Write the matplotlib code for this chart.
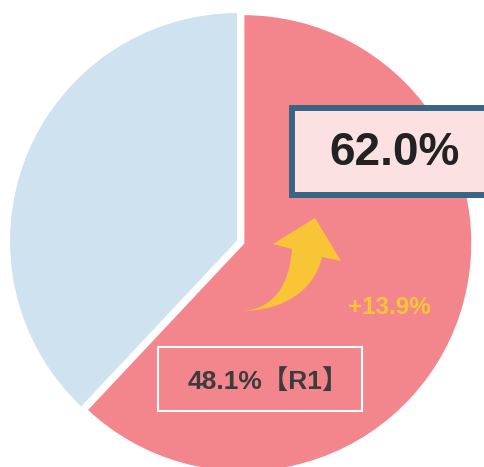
import matplotlib
matplotlib.use("Agg")
import matplotlib.pyplot as plt
from matplotlib.patches import Rectangle, PathPatch
from matplotlib.path import Path
from matplotlib.transforms import Affine2D

# data
labels = ["R2", "Other"]
shares = [62.0, 38.0]
prev_share = 48.1
prev_label = "R1"
change = shares[0] - prev_share

PINK = "#F3868C"
BLUE = "#CFE2EF"
YELLOW = "#F7C535"
BORDER = "#386584"

W, H = 485, 467
fig = plt.figure(figsize=(W / 100, H / 100), dpi=100)
ax = fig.add_axes([0, 0, 1, 1])

R = 229  # pie radius in pixels
cx, cy = 238, 241  # pie centre in pixels (from top-left)

ax.pie(
    shares,
    colors=[PINK, BLUE],
    startangle=90,
    counterclock=False,
    explode=[0.025, 0],
    wedgeprops=dict(edgecolor="white", linewidth=1.5),
)
ax.set_aspect("auto")
ax.set_xlim(-cx / R, (W - cx) / R)
ax.set_ylim(-(H - cy) / R, cy / R)
ax.axis("off")

# pixel coords (top-left origin) -> figure
px = Affine2D().scale(1 / W, -1 / H).translate(0, 1) + fig.transFigure


def fx(x):
    return x / W


def fy(y):
    return 1 - y / H


# big value box
big = Rectangle((292, 195), 220, -87, transform=px,
                facecolor="#FCE1E3", edgecolor=BORDER, linewidth=4.3, clip_on=False)
fig.add_artist(big)
fig.text(fx(395), fy(153), f"{shares[0]:.1f}%", ha="center", va="center",
         fontsize=33, fontweight="bold", color="#222222", family="Liberation Sans")

# previous value box
prev = Rectangle((158, 411), 204, -64, transform=px,
                 facecolor="none", edgecolor="white", linewidth=1.5)
fig.add_artist(prev)
fig.text(fx(268), fy(381), f"{prev_share:.1f}%【{prev_label}】", ha="center", va="center",
         fontsize=19, fontweight="bold", color="#3C3C3C",
         family=["Liberation Sans", "Noto Sans CJK SC"])

# curved arrow (tapered tail, wide head)
verts = [
    (244, 311),
    (272, 308), (289, 288), (292, 249),   # upper edge to neck
    (273, 244),                            # left barb
    (315, 218),                            # tip
    (341, 261),                            # right barb
    (322, 257),                            # neck right
    (314, 292), (282, 310), (244, 311),   # lower edge back to tail
    (244, 311),
]
codes = [Path.MOVETO,
         Path.CURVE4, Path.CURVE4, Path.CURVE4,
         Path.LINETO, Path.LINETO, Path.LINETO, Path.LINETO,
         Path.CURVE4, Path.CURVE4, Path.CURVE4,
         Path.CLOSEPOLY]
fig.add_artist(PathPatch(Path(verts, codes), transform=px,
                         facecolor=YELLOW, edgecolor="none"))
fig.text(fx(389), fy(308), f"+{change:.1f}%", ha="center", va="center",
         fontsize=17.5, fontweight="bold", color=YELLOW, family="Liberation Sans")

plt.savefig("out.png", dpi=100)
